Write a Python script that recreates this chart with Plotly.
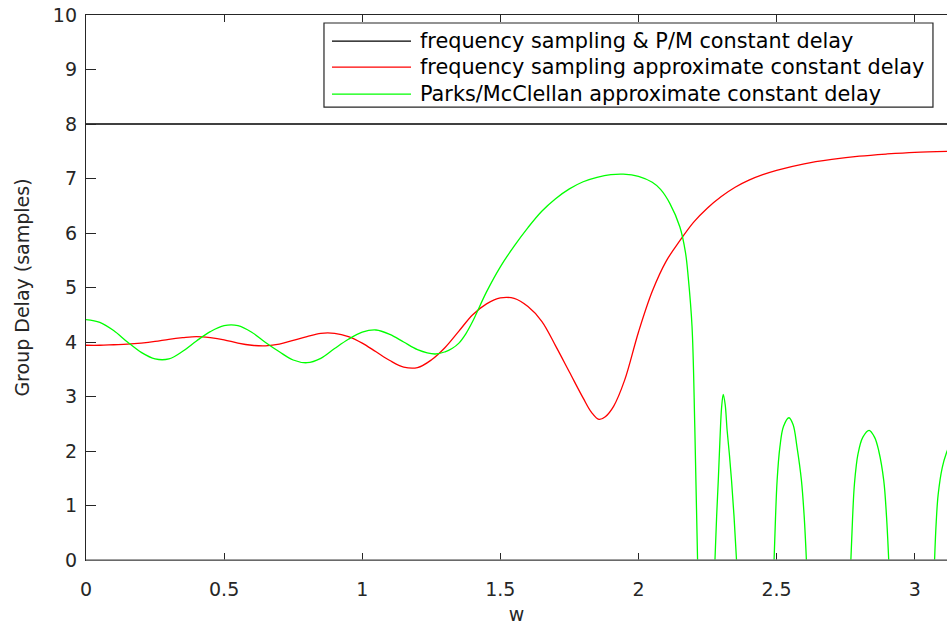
import plotly.graph_objects as go

# ---- data ----
series_names = [
    "frequency sampling & P/M constant delay",
    "frequency sampling approximate constant delay",
    "Parks/McClellan approximate constant delay",
]

w_const = [0.0, 3.1416]
gd_const = [8.0, 8.0]

w_fs = [0.0, 0.05, 0.10, 0.15, 0.20, 0.25, 0.30, 0.35, 0.40, 0.45, 0.50,
        0.55, 0.60, 0.65, 0.70, 0.75, 0.80, 0.85, 0.90, 0.95, 1.00, 1.05,
        1.10, 1.15, 1.20, 1.25, 1.30, 1.35, 1.40, 1.45, 1.50, 1.55, 1.60,
        1.65, 1.70, 1.75, 1.80, 1.83, 1.857, 1.88, 1.91, 1.95, 2.00, 2.05,
        2.10, 2.15, 2.20, 2.25, 2.30, 2.35, 2.40, 2.45, 2.50, 2.60, 2.70,
        2.80, 2.90, 3.00, 3.1416]
gd_fs = [3.94, 3.94, 3.95, 3.96, 3.98, 4.01, 4.05, 4.08, 4.10, 4.08, 4.04,
         3.98, 3.94, 3.93, 3.96, 4.03, 4.10, 4.16, 4.16, 4.10, 3.98, 3.82,
         3.66, 3.54, 3.53, 3.67, 3.90, 4.20, 4.50, 4.70, 4.81, 4.80, 4.65,
         4.38, 3.93, 3.45, 2.97, 2.71, 2.58, 2.63, 2.82, 3.30, 4.18, 4.93,
         5.48, 5.86, 6.20, 6.46, 6.67, 6.84, 6.97, 7.07, 7.15, 7.27, 7.35,
         7.41, 7.45, 7.48, 7.50]

# Parks/McClellan: passband part, then the stopband lobes (None = below axis)
w_pm = [0.0, 0.05, 0.10, 0.15, 0.20, 0.25, 0.30, 0.35, 0.40, 0.45, 0.50,
        0.55, 0.60, 0.65, 0.70, 0.75, 0.80, 0.85, 0.90, 0.95, 1.00, 1.05,
        1.10, 1.15, 1.20, 1.263, 1.30, 1.325, 1.35, 1.375, 1.40, 1.45, 1.50,
        1.55, 1.60, 1.65, 1.70, 1.75, 1.80, 1.85, 1.90, 1.945, 2.00, 2.05,
        2.08, 2.114, 2.15, 2.17, 2.18, 2.194, 2.204, 2.214, None,
        2.277, 2.283, 2.289, 2.295, 2.301, 2.307, 2.314, 2.321, 2.329, 2.337,
        2.346, 2.355, None,
        2.491, 2.496, 2.502, 2.512, 2.525, 2.545, 2.560, 2.574, 2.590, 2.600,
        2.608, None,
        2.769, 2.775, 2.782, 2.795, 2.812, 2.835, 2.855, 2.870, 2.888, 2.898,
        2.906, None,
        3.072, 3.078, 3.085, 3.10, 3.116, 3.13, 3.1416]
gd_pm = [4.41, 4.36, 4.21, 4.00, 3.81, 3.69, 3.69, 3.83, 4.02, 4.19, 4.30,
         4.30, 4.18, 3.99, 3.82, 3.67, 3.62, 3.70, 3.88, 4.05, 4.18, 4.22,
         4.14, 4.00, 3.86, 3.78, 3.82, 3.88, 3.98, 4.15, 4.38, 4.92, 5.38,
         5.76, 6.10, 6.40, 6.63, 6.81, 6.94, 7.02, 7.07, 7.08, 7.04, 6.93,
         6.80, 6.54, 6.11, 5.65, 5.20, 4.28, 2.44, 0.0, None,
         0.0, 0.8, 1.46, 2.2, 2.8, 3.04, 2.85, 2.38, 1.95, 1.46,
         0.8, 0.0, None,
         0.0, 0.75, 1.46, 2.07, 2.45, 2.61, 2.48, 2.07, 1.46, 0.8,
         0.0, None,
         0.0, 0.75, 1.40, 1.95, 2.25, 2.38, 2.25, 2.0, 1.46, 0.8,
         0.0, None,
         0.0, 0.7, 1.2, 1.7, 1.98, 2.15, 2.22]

x_ticks = [0, 0.5, 1, 1.5, 2, 2.5, 3]
x_tick_text = ["0", "0.5", "1", "1.5", "2", "2.5", "3"]
y_ticks = [0, 1, 2, 3, 4, 5, 6, 7, 8, 9, 10]

colors = ["#000000", "#ff0000", "#00ff00"]
AX = "#262626"
FONT = "DejaVu Sans"

fig = go.Figure()
fig.add_trace(go.Scatter(x=w_const, y=gd_const, mode="lines", name=series_names[0],
                         line=dict(color=colors[0], width=1.3)))
fig.add_trace(go.Scatter(x=w_fs, y=gd_fs, mode="lines", name=series_names[1],
                         line=dict(color=colors[1], width=1.3, shape="spline")))
fig.add_trace(go.Scatter(x=w_pm, y=gd_pm, mode="lines", name=series_names[2],
                         connectgaps=False,
                         line=dict(color=colors[2], width=1.3, shape="spline")))

fig.update_layout(
    width=947, height=626,
    margin=dict(l=86, r=0, t=15, b=66, autoexpand=False),
    paper_bgcolor="white", plot_bgcolor="white",
    showlegend=False,
    font=dict(family=FONT, size=19, color=AX),
    xaxis=dict(range=[0, 3.117], tickvals=x_ticks, ticktext=x_tick_text,
               ticks="inside", ticklen=7, tickcolor=AX, tickwidth=1.3,
               showline=True, linecolor=AX, linewidth=1.3, mirror="ticks",
               showgrid=False, zeroline=False, ticklabelstandoff=12,
               ticklabeloverflow="allow", automargin=False,
               title=dict(text="w", standoff=8, font=dict(size=19))),
    yaxis=dict(range=[0, 10], tickvals=y_ticks,
               ticks="inside", ticklen=10, tickcolor=AX, tickwidth=1.3,
               showline=True, linecolor=AX, linewidth=1.3, mirror=False,
               showgrid=False, zeroline=False, ticklabelstandoff=4,
               ticklabeloverflow="allow", automargin=False,
               title=dict(text="Group Delay (samples)", standoff=18, font=dict(size=19))),
    yaxis2=dict(range=[0, 10], tickvals=y_ticks, overlaying="y", side="right",
                anchor="x", ticks="inside", ticklen=3, tickcolor=AX, tickwidth=1.3,
                showline=False, showticklabels=False, showgrid=False, zeroline=False,
                automargin=False),
)

# bottom axis line (grey in reference)
fig.add_shape(type="line", xref="paper", yref="paper", x0=0, x1=1, y0=0, y1=0,
              line=dict(color="#808080", width=1.5), layer="above")

# legend box drawn in plot-paper coordinates
fig.add_shape(type="rect", xref="paper", yref="paper", x0=0.2764, x1=0.9837,
              y0=0.8311, y1=0.9853, line=dict(color=AX, width=1.2),
              fillcolor="white", layer="above")
rows = [0.9521, 0.9043, 0.8548]
for name, col, yy in zip(series_names, colors, rows):
    fig.add_shape(type="line", xref="paper", yref="paper", x0=0.2857, x1=0.3775,
                  y0=yy, y1=yy, line=dict(color=col, width=1.3), layer="above")
    fig.add_annotation(xref="paper", yref="paper", x=0.3856, y=yy, text=name,
                       showarrow=False, xanchor="left", yanchor="middle",
                       font=dict(family=FONT, size=20.8, color="#000000"))

fig.write_html("out.html",
               config={"displayModeBar": False},
               post_script="document.body.style.margin='0';document.body.style.overflow='hidden';")
